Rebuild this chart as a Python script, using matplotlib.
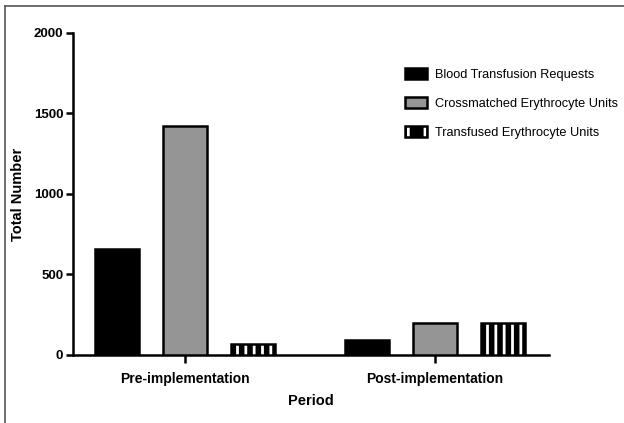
import matplotlib.pyplot as plt
from matplotlib.patches import Patch
import numpy as np

periods = ["Pre-implementation", "Post-implementation"]
requests = [658, 93]
crossmatched = [1422, 199]
transfused = [70, 200]
series_names = ["Blood Transfusion Requests", "Crossmatched Erythrocyte Units",
                "Transfused Erythrocyte Units"]

plt.rcParams['font.family'] = ['Liberation Sans', 'DejaVu Sans']
plt.rcParams['hatch.linewidth'] = 2.0
plt.rcParams['hatch.color'] = 'white'

fig = plt.figure(figsize=(6.24, 4.23), dpi=100)
ax = fig.add_axes([0.117, 0.161, 0.763, 0.761])

x = np.arange(len(periods))
off = 0.272
w = 0.176
lw = 1.8

ax.bar(x - off, requests, w, color='black', edgecolor='black', linewidth=lw, zorder=3)
ax.bar(x, crossmatched, w, color='#959595', edgecolor='black', linewidth=lw, zorder=3)
ax.bar(x + off, transfused, w, color='black', edgecolor='white', linewidth=0,
       hatch='||', zorder=3)
ax.bar(x + off, transfused, w, fill=False, edgecolor='black', linewidth=lw, zorder=4)

ax.set_xlim(-0.448, 1.456)
ax.set_ylim(0, 2000)
ax.set_yticks([0, 500, 1000, 1500, 2000])
ax.set_xticks(x)
ax.set_xticklabels(periods, fontsize=10, fontweight='bold')
ax.tick_params(axis='y', labelsize=9.5, width=lw, length=5, pad=2)
ax.tick_params(axis='x', width=lw, length=6, pad=6)
for t in ax.get_yticklabels():
    t.set_fontweight('bold')
ax.spines['top'].set_visible(False)
ax.spines['right'].set_visible(False)
ax.spines['left'].set_linewidth(lw)
ax.spines['bottom'].set_linewidth(lw)
ax.set_ylabel("Total Number", fontsize=10.5, fontweight='bold', labelpad=6)
ax.set_xlabel("Period", fontsize=10.5, fontweight='bold', labelpad=6)

# legend
hatch_h = (Patch(facecolor='black', edgecolor='white', hatch='|', linewidth=0),
           Patch(fill=False, edgecolor='black', linewidth=lw))
handles = [
    Patch(facecolor='black', edgecolor='black', linewidth=lw),
    Patch(facecolor='#959595', edgecolor='black', linewidth=lw),
    hatch_h,
]
leg = fig.legend(handles, series_names, loc='upper left', bbox_to_anchor=(0.649, 0.84),
                 bbox_transform=fig.transFigure, frameon=False, fontsize=9.2,
                 handlelength=1.75, handleheight=0.95, labelspacing=1.28,
                 handletextpad=0.6, borderpad=0, borderaxespad=0)

# page frame lines
fig.add_artist(plt.Line2D([0.008, 0.008], [0, 0.985], color='#555555', lw=1.2))
fig.add_artist(plt.Line2D([0.008, 1], [0.985, 0.985], color='#555555', lw=1.2))

fig.savefig("out.png", dpi=100)
